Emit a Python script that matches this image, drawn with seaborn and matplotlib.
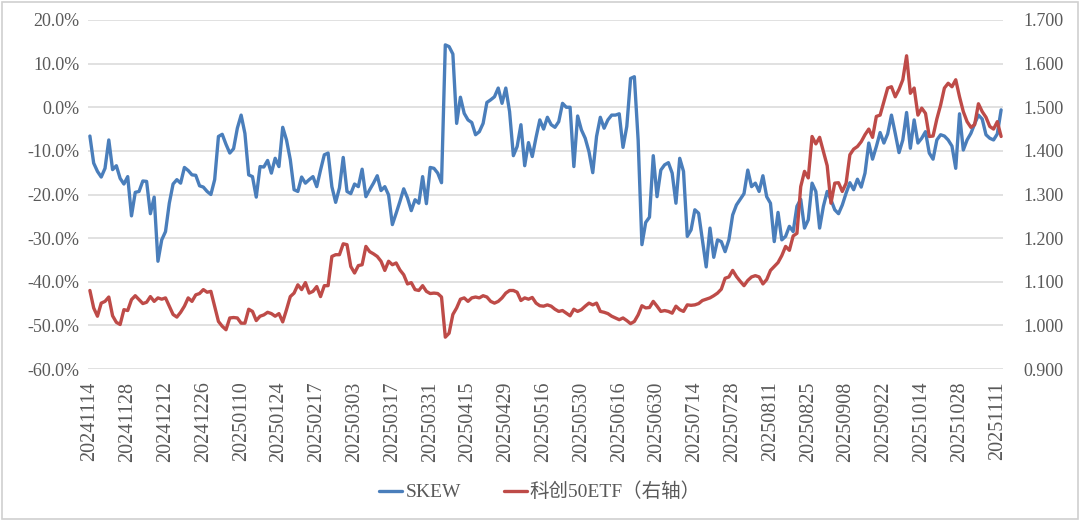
import matplotlib
matplotlib.use("Agg")
import matplotlib.pyplot as plt
from matplotlib.ticker import FuncFormatter
from matplotlib.lines import Line2D
from matplotlib.patches import Rectangle
import seaborn as sns
import pandas as pd

# ---- data -------------------------------------------------------------
tick_labels = ["20241114", "20241128", "20241212", "20241226", "20250110",
               "20250124", "20250217", "20250303", "20250317", "20250331",
               "20250415", "20250429", "20250516", "20250530", "20250616",
               "20250630", "20250714", "20250728", "20250811", "20250825",
               "20250908", "20250922", "20251014", "20251028", "20251111"]
tick_step = 10  # one label every 10 trading days

# SKEW (%), left axis
skew = [
    -6.6, -12.8, -14.7, -16.0, -14.0, -7.5, -14.3, -13.4, -16.3, -17.6,
    -15.9, -24.9, -19.5, -19.3, -16.9, -17.0, -24.4, -20.6, -35.3, -30.4,
    -28.5, -22.0, -17.6, -16.6, -17.4, -13.8, -14.5, -15.5, -15.6, -18.0,
    -18.3, -19.3, -20.0, -16.6, -6.7, -6.2, -8.5, -10.5, -9.5, -4.8,
    -1.8, -6.0, -15.5, -15.9, -20.6, -13.6, -13.7, -12.2, -15.1, -11.7,
    -13.6, -4.6, -7.5, -12.0, -18.9, -19.3, -16.0, -17.4, -16.6, -15.9,
    -18.2, -14.4, -10.9, -10.5, -18.2, -21.8, -18.5, -11.5, -19.3, -19.8,
    -17.6, -18.2, -14.2, -20.5, -18.9, -17.4, -15.7, -19.1, -18.2, -20.1,
    -26.9, -24.3, -21.6, -18.7, -20.8, -23.7, -21.2, -22.0, -15.9, -22.1,
    -13.8, -14.0, -15.1, -17.3, 14.3, 13.9, 12.2, -3.7, 2.3, -1.4,
    -2.9, -3.5, -6.3, -5.6, -3.7, 1.1, 1.7, 2.4, 4.4, 0.9,
    4.4, -1.0, -11.1, -9.0, -4.0, -13.4, -8.1, -11.3, -6.9, -2.9,
    -5.0, -2.3, -4.0, -4.6, -3.3, 0.9, 0.0, 0.0, -13.6, -2.0,
    -5.2, -7.1, -10.2, -15.0, -6.7, -2.3, -4.8, -2.9, -1.8, -1.8,
    -1.5, -9.2, -4.4, 6.6, 7.0, -7.5, -31.5, -26.4, -25.2, -11.1,
    -20.5, -14.4, -13.2, -12.7, -15.1, -22.0, -11.7, -14.7, -29.6, -28.1,
    -23.5, -24.3, -30.4, -36.6, -27.7, -34.4, -30.4, -30.8, -33.1, -30.4,
    -24.7, -22.4, -21.1, -19.8, -14.4, -18.2, -17.4, -19.3, -15.7, -20.5,
    -22.0, -30.8, -24.1, -30.4, -29.6, -27.3, -28.5, -22.7, -21.1, -27.7,
    -25.8, -17.4, -19.3, -27.7, -22.7, -19.3, -21.2, -23.5, -24.4, -22.4,
    -19.7, -17.3, -18.9, -16.5, -18.3, -15.1, -8.2, -11.9, -9.0, -5.8,
    -8.2, -6.1, -1.8, -6.0, -10.4, -7.5, -1.2, -9.4, -2.9, -8.2,
    -7.1, -5.6, -10.5, -11.9, -7.5, -6.3, -6.6, -7.5, -8.9, -14.0,
    -1.5, -9.8, -7.5, -6.0, -3.8, -1.8, -2.7, -6.3, -7.1, -7.5,
    -6.1, -0.6,
]

# 科创50ETF price, right axis
etf = [
    1.080, 1.040, 1.021, 1.051, 1.055, 1.065, 1.022, 1.007, 1.002, 1.036,
    1.034, 1.059, 1.068, 1.059, 1.050, 1.053, 1.066, 1.055, 1.063, 1.060,
    1.063, 1.044, 1.025, 1.019, 1.030, 1.044, 1.063, 1.055, 1.070, 1.073,
    1.082, 1.076, 1.078, 1.044, 1.009, 0.998, 0.990, 1.017, 1.018, 1.017,
    1.005, 1.005, 1.037, 1.032, 1.011, 1.021, 1.024, 1.030, 1.027, 1.021,
    1.027, 1.008, 1.036, 1.066, 1.074, 1.093, 1.082, 1.098, 1.074, 1.078,
    1.089, 1.066, 1.091, 1.091, 1.158, 1.162, 1.162, 1.187, 1.185, 1.135,
    1.120, 1.137, 1.139, 1.181, 1.169, 1.164, 1.158, 1.147, 1.126, 1.147,
    1.139, 1.143, 1.127, 1.116, 1.095, 1.098, 1.082, 1.080, 1.091, 1.078,
    1.073, 1.074, 1.073, 1.065, 0.973, 0.982, 1.025, 1.040, 1.060, 1.063,
    1.055, 1.063, 1.065, 1.063, 1.068, 1.065, 1.055, 1.051, 1.055, 1.063,
    1.074, 1.080, 1.080, 1.076, 1.057, 1.063, 1.060, 1.064, 1.051, 1.045,
    1.044, 1.047, 1.044, 1.037, 1.032, 1.034, 1.028, 1.022, 1.037, 1.032,
    1.036, 1.044, 1.051, 1.047, 1.051, 1.032, 1.030, 1.027, 1.021, 1.017,
    1.013, 1.017, 1.011, 1.004, 1.009, 1.024, 1.045, 1.040, 1.041, 1.055,
    1.044, 1.032, 1.034, 1.032, 1.028, 1.044, 1.036, 1.032, 1.047, 1.046,
    1.047, 1.050, 1.057, 1.060, 1.063, 1.068, 1.074, 1.083, 1.108, 1.111,
    1.126, 1.112, 1.101, 1.091, 1.103, 1.111, 1.114, 1.111, 1.095, 1.105,
    1.126, 1.135, 1.144, 1.160, 1.181, 1.172, 1.205, 1.211, 1.318, 1.353,
    1.338, 1.433, 1.416, 1.431, 1.398, 1.366, 1.280, 1.326, 1.327, 1.307,
    1.326, 1.391, 1.404, 1.410, 1.421, 1.437, 1.450, 1.431, 1.479, 1.482,
    1.513, 1.544, 1.547, 1.524, 1.541, 1.563, 1.618, 1.532, 1.544, 1.482,
    1.498, 1.486, 1.433, 1.434, 1.473, 1.505, 1.544, 1.555, 1.547, 1.563,
    1.524, 1.490, 1.467, 1.454, 1.460, 1.508, 1.490, 1.477, 1.456, 1.450,
    1.467, 1.433,
]

skew_name = "SKEW"
etf_name = "科创50ETF（右轴）"

# ---- style ------------------------------------------------------------
sns.set_theme(style="white")
plt.rcParams["font.family"] = ["Liberation Serif", "Noto Sans CJK SC", "DejaVu Sans"]

BLUE = "#4a7ebb"
RED = "#be4b48"
GRID = "#d9d9d9"
TEXT = "#595959"

W, H = 1080, 520
fig = plt.figure(figsize=(W / 100, H / 100), dpi=100)
fig.patch.set_facecolor("white")
fig.add_artist(Rectangle((0.0015, 0.002), 0.997, 0.995, transform=fig.transFigure,
                         fill=False, edgecolor="#d0d0d0", linewidth=1.2))

left, right, top, bottom = 88, 1003, 20, 369
ax = fig.add_axes([left / W, 1 - bottom / H, (right - left) / W, (bottom - top) / H])
ax2 = ax.twinx()

n = max(len(skew), len(etf))
df_s = pd.DataFrame({"idx": range(len(skew)), "val": skew})
df_e = pd.DataFrame({"idx": range(len(etf)), "val": etf})

sns.lineplot(data=df_s, x="idx", y="val", ax=ax, color=BLUE, linewidth=2.4,
             legend=False)
sns.lineplot(data=df_e, x="idx", y="val", ax=ax2, color=RED, linewidth=2.4,
             legend=False)

ax.set_xlim(-0.5, n - 0.5)
ax.set_ylim(-60, 20)
ax.set_yticks(list(range(-60, 21, 10)))
ax.yaxis.set_major_formatter(FuncFormatter(lambda v, p: f"{v:.1f}%"))

ax2.set_ylim(0.9, 1.7)
ax2.set_yticks([0.9 + 0.1 * k for k in range(9)])
ax2.yaxis.set_major_formatter(FuncFormatter(lambda v, p: f"{v:.3f}"))

ax.set_xticks([k * tick_step for k in range(len(tick_labels))])
ax.set_xticklabels(tick_labels, rotation=90)

ax.grid(axis="y", color=GRID, linewidth=1.1)
ax.grid(axis="x", visible=False)
ax2.grid(False)
for a in (ax, ax2):
    for sp in a.spines.values():
        sp.set_visible(False)
    a.set_xlabel("")
    a.set_ylabel("")

ax.tick_params(axis="y", length=0, pad=6, labelsize=13, labelcolor=TEXT)
ax.tick_params(axis="x", length=0, pad=9, labelsize=14.5, labelcolor=TEXT)
ax2.tick_params(axis="y", length=0, pad=15, labelsize=13, labelcolor=TEXT)

handles = [Line2D([], [], color=BLUE, linewidth=2.4),
           Line2D([], [], color=RED, linewidth=2.4)]
fig.legend(handles, [skew_name, etf_name], loc="center",
           bbox_to_anchor=(0.5, 1 - 492 / H), ncol=2, frameon=False,
           fontsize=14, handlelength=1.2, handletextpad=0.15,
           columnspacing=2.2, labelcolor=TEXT)

fig.savefig("out.png", dpi=100, facecolor="white")
